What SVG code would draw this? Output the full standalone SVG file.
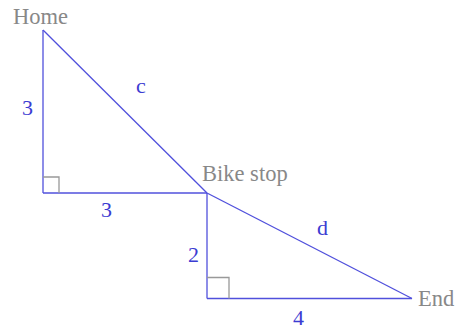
<svg xmlns="http://www.w3.org/2000/svg" width="461" height="329" viewBox="0 0 461 329">
<style>
.edge{stroke:#5050dc;stroke-width:1.3;fill:none}
.sq{stroke:#999;stroke-width:1.3;fill:none}
.pt{font-family:"Liberation Serif","Times New Roman",serif;font-size:22.5px;fill:#888}
.lb{font-family:"Liberation Serif","Times New Roman",serif;font-size:22px;fill:#3c3cd2}
</style>
<rect width="461" height="329" fill="#fff"/>
<g id="connectors">
<line class="edge" x1="43" y1="30" x2="43" y2="193"/>
<line class="edge" x1="43" y1="193" x2="207" y2="193"/>
<line class="edge" x1="43" y1="30" x2="207" y2="193"/>
<line class="edge" x1="207" y1="193" x2="207" y2="298.5"/>
<line class="edge" x1="207" y1="298.5" x2="412" y2="298.5"/>
<line class="edge" x1="207" y1="193" x2="412" y2="298.5"/>
<text class="lb" x="22" y="115">3</text>
<text class="lb" x="101" y="217">3</text>
<text class="lb" x="136" y="93">c</text>
<text class="lb" x="188" y="262">2</text>
<text class="lb" x="293" y="325">4</text>
<text class="lb" x="317" y="235">d</text>
</g>
<g id="home"><text class="pt" x="13" y="24">Home</text></g>
<g id="corner1"><polyline class="sq" points="43,177 59,177 59,193"/></g>
<g id="bikestop"><text class="pt" x="202" y="181">Bike stop</text></g>
<g id="corner2"><polyline class="sq" points="207,277.5 229,277.5 229,298.5"/></g>
<g id="end"><text class="pt" x="418" y="306">End</text></g>
</svg>
